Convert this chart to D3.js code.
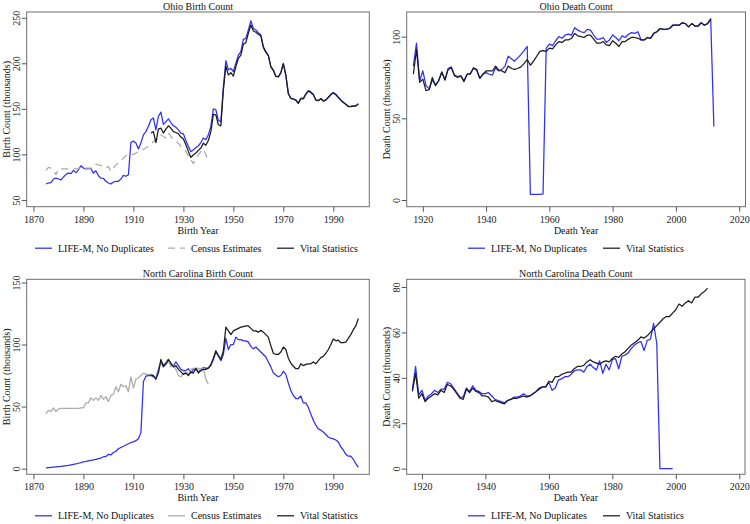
<!DOCTYPE html>
<html><head><meta charset="utf-8">
<script src="https://cdn.jsdelivr.net/npm/d3@7"></script>
<style>
html,body{margin:0;padding:0;background:#fff;}
svg{display:block;font-family:"Liberation Serif","Times New Roman",serif;}
svg text{font-family:"Liberation Serif","Times New Roman",serif;}
</style></head>
<body>
<svg id="chart" width="750" height="524"></svg>
<script>
// ---------- DATA ----------
const birthXTicks = [1870, 1890, 1910, 1930, 1950, 1970, 1990];
const deathXTicks = [1920, 1940, 1960, 1980, 2000, 2020];
const ohBirthYTicks = [50, 100, 150, 200, 250];
const ohDeathYTicks = [0, 50, 100];
const ncBirthYTicks = [0, 50, 100, 150];
const ncDeathYTicks = [0, 20, 40, 60, 80];
const seriesNames = ["LIFE-M, No Duplicates", "Census Estimates", "Vital Statistics"];

// Ohio births (thousands)
const ohBirthLifeMStart = 1875;
const ohBirthLifeM = [
 67.5,68.6,69,73,74,73,72,75,78,79.5,
 79,82.5,80,83,87.5,85,84,84.5,84.5,79.5,
 82,76.5,74,73.7,70.5,68.6,67.5,69.7,70.5,70.5,
 73,77,76,77.7,113,114.6,112.5,106,112.5,121.5,
 125,130.7,138,140,127,141.6,146.4,133,136,139,
 135,131.4,130,127,123.4,122.6,115.3,108.8,103,105,
 107.3,109.5,113,118,116,121.5,130.7,150,149,137.2,
 136,173.7,203,192.7,194.5,191,200,209,212.8,226.3,
 227.4,236.5,246.7,238.3,236.5,233.6,231,218.2,212.8,209,
 196.4,192.7,186,185.4,189.8,200,187.2,167,161.7,161,
 159.9,156.2,161.7,161.3,166.4,170,168.6,166,159.9,159.1,
 161.3,158.8,159.9,162.8,166,168,166,162.8,159.9,157.3,
 155.1,152.6,152.6,153.3,153.3,155.5];
const ohBirthCensusStart = 1875;
const ohBirthCensus = [
 82.5,85.8,85,82.5,77.7,84,84,84,84,84,
 84,84,84,85,84,84,85,85,85,86.8,
 89.4,88.6,88,86.8,85,86.8,81.4,85,88.6,90.5,
 93,96,98.5,99.6,100.7,99.6,101.5,103.3,104,105.5,
 107,109,111,114,116,117,121.5,119.7,118,123.4,
 119.7,116,114.2,112.4,108.8,107,103.3,97.8,94.2,89.8,
 95,99.6,103.3,105.8,99.6,92.3];
const ohBirthVitalStart = 1917;
const ohBirthVital = [
 123.4,125,113,127.7,128.8,123.4,127.7,131.4,128.8,125,
 124,122.6,119,116.8,110.6,103.3,96.7,99.6,101.5,104.4,
 107,112.4,110,115.3,125,144,143.4,132.5,131.4,170.8,
 197,187.2,189.8,186,196.4,205.5,209,221,222.6,232.8,
 242,235.4,234,232,230,217.5,212,208.5,
 196,192,185.5,185,189.5,199.5,186.5,166.5,161.5,160.5,
 159.5,156,161.5,161,166,169.5,168,165.5,159.5,159,
 161,158.5,159.5,162.5,165.5,167.5,165.5,162.5,159.5,157,
 155,152.5,152.5,153,153,155.5];

// Ohio deaths (thousands)
const ohDeathLifeMStart = 1917;
const ohDeathLifeM = [
 82,96,73,79,70,68,73.5,70.5,73,78,
 73.5,80.5,81.5,76,75,76,73,77,77.5,80.5,
 79.5,74.5,77,78,77,76.5,81,79,80,82,
 88,86.5,85,87,89,91.5,94,3.5,3.5,3.5,
 3.5,3.7,93,95.5,94.5,97.5,100,99,101,101.5,
 101,105.5,104,103,102.5,104.5,104,101,98.5,98.5,
 99.5,96.5,98,101,99.5,97.5,100.5,99.5,101.5,102.5,
 102,103,98,98,99.5,99,102,103,105,104.5,
 104.5,105,107,107,107,108.5,108,106,108,106.5,
 106.5,108.5,107,108,111,45];
const ohDeathVitalStart = 1917;
const ohDeathVital = [
 77,92,72,74,67,67.5,75,70,73,78.5,
 73.5,80,81,76.5,75.5,76,72.5,77,77,81,
 80,74.5,77,79,79,79,82,79.5,79,78,
 82,80.5,80,80.5,81.5,83.5,86,82.5,85,88,
 91,91.5,91,93,92.5,95,97,96.5,98,98,
 99,102,100.5,100,99.5,101,101,98.5,96,96,
 97,95,94.5,97.5,96,94,97,97,98.5,99.5,
 99.5,99,98,98,99.5,99,102,103,105,104.5,
 104.5,105,107,107,107,108.5,108,106,108,106.5,
 106.5,108.5,107,108,110.5];

// North Carolina births (thousands)
const ncBirthLifeMStart = 1875;
const ncBirthLifeM = [
 0.5,0.7,0.9,1.1,1.3,1.5,1.7,2,2.3,2.6,
 3,3.4,3.8,4.3,4.8,5.5,5.8,6.2,6.6,7,
 7.5,8,8.5,9.5,9.8,11.5,11,13,14,16,
 17,18,19,20,21,21.5,22.5,24,29,70,
 74.5,75,75,74,73,80,86,82,84,87,
 84,83,86,83,80,79,79,80.5,77,80,
 80,78,80,81.5,81,81,83,88,94,91,
 87,92,105,96,100,100,106,104,104,103,
 103,102,98.5,96.5,98,96,94,92,90,86,
 82,77,75.5,74,75,78.5,76,69,63,59,
 56.5,56.5,58.5,53,53,49.5,44,39,35,32,
 31,29.5,27.5,25.5,24.5,24,23,21.5,17.5,15,
 11.5,10,10,7.5,4,1];
const ncBirthCensusStart = 1875;
const ncBirthCensus = [
 44,47,46,49,46,48,48.5,48.5,48.5,48.5,
 48.5,48.5,48.5,48.5,49,49,53,53,57,55,
 57,55,59,56,58,54,59,60,66,62,
 68,66,67,62,74,65,72,73,75,77,
 76,76,76,75,73,78,86,84,85,88,
 82,84,80,75,74,77,78,76,80,81,
 79,81,80,81,72,68];
const ncBirthVitalStart = 1917;
const ncBirthVital = [
 75.5,75,72,77,88,82.5,85,88,85,82,
 83,80,78,76,77,75,78,77,81,77,
 79,80,80,81,84,89,95,91,88,95,
 114,111,108,111,112,113,114,114.5,115,115,
 113,111,111,110,111.5,110,108,106,99,93,
 92,92,94,98,96,89,85,82.5,80.5,80.5,
 84.5,83,84,84.5,84.5,86,84.5,87,89.5,90.5,
 93,96,100,104.5,103,103.5,101.5,101.5,102,105,
 108,112,115,121];

// North Carolina deaths (thousands)
const ncDeathLifeMStart = 1917;
const ncDeathLifeM = [
 35,45,32.5,34.5,30,32,33,34.5,33.5,35,
 35,38,37.5,35.5,33.5,31.5,31.5,35.5,34,36.5,
 34.5,34,33,33,33.5,32,30.5,30,29.5,29,
 30,30.5,31.5,31.5,32,33,32,32,33,34,
 35,36,36,38,34.5,35.5,39,39.5,40.5,40.5,
 41.5,43,43.5,43.5,42.5,45,46,44.5,43.5,47.5,
 42,46,43.5,48,48.5,44,49.5,50,51,53,
 54.5,55.5,56,52,56.5,57,64,55,0,0,
 0,0,0];
const ncDeathVitalStart = 1917;
const ncDeathVital = [
 34,42,31,33,29.5,31,32,33,32.5,34.5,
 33.5,37,36.5,35,33,31,30.5,35,33.5,35.5,
 34,33.5,32,32,31.5,29.5,30,29.5,29,28.5,
 30,30.5,31,31,31.5,32,31.5,32,33,34,
 35.5,36,36,38.5,38,40.5,40.5,41.5,42,42.5,
 42.5,44,45,45,45.5,47,48,47,46.5,46,
 47,47.5,47,48.5,49.5,49,50.5,51.5,53,54.5,
 55.5,56.5,58,57.5,58.5,60,61.5,63,64.5,66,
 67,67,68.5,70,72.5,71.5,73,74,73,75.5,
 75.5,77,78,79.5];

// ---------- STYLE ----------
const BLUE = "#2f2ff5", BLACK = "#1c1c1c", GRAY = "#ababab";
const FONT = 10;

const svg = d3.select("#chart");

function toPoints(start, vals) { return vals.map((v, i) => [start + i, v]); }

function drawPanel(cfg) {
  const g = svg.append("g");
  const x = d3.scaleLinear().domain(cfg.xDomain).range([cfg.left, cfg.right]);
  const y = d3.scaleLinear().domain(cfg.yDomain).range([cfg.bottom, cfg.top]);

  const line = d3.line().x(d => x(d[0])).y(d => y(d[1]));
  cfg.series.forEach(s => {
    g.append("path").datum(toPoints(s.start, s.values))
      .attr("d", line).attr("fill", "none")
      .attr("stroke", s.color).attr("stroke-width", 1.25)
      .attr("stroke-dasharray", s.dash || null)
      .attr("stroke-linejoin", "round");
  });

  g.append("rect").attr("x", cfg.left).attr("y", cfg.top)
    .attr("width", cfg.right - cfg.left).attr("height", cfg.bottom - cfg.top)
    .attr("fill", "none").attr("stroke", "#6e6e6e").attr("stroke-width", 1);

  const xa = g.append("g").attr("transform", `translate(0,${cfg.bottom})`)
    .call(d3.axisBottom(x).tickValues(cfg.xTicks).tickFormat(d3.format("d")).tickSize(5).tickPadding(4));
  xa.attr("font-family", null).attr("font-size", FONT);
  xa.select(".domain").remove();
  xa.selectAll("line").attr("stroke", "#555");
  xa.selectAll("text").attr("fill", "#222");

  const ya = g.append("g").attr("transform", `translate(${cfg.left},0)`)
    .call(d3.axisLeft(y).tickValues(cfg.yTicks).tickFormat(d3.format("d")).tickSize(5));
  ya.attr("font-family", null).attr("font-size", FONT);
  ya.select(".domain").remove();
  ya.selectAll("line").attr("stroke", "#555");
  ya.selectAll("text").attr("fill", "#222")
    .attr("x", null).attr("dy", null).attr("text-anchor", "middle")
    .attr("transform", "translate(-7,0) rotate(-90)");

  g.append("text").attr("x", (cfg.left + cfg.right) / 2).attr("y", cfg.top - 2.5)
    .attr("text-anchor", "middle").attr("font-size", FONT).attr("fill", "#111").text(cfg.title);
  g.append("text").attr("x", (cfg.left + cfg.right) / 2).attr("y", cfg.bottom + 27)
    .attr("text-anchor", "middle").attr("font-size", FONT).attr("fill", "#111").text(cfg.xTitle);
  const cy = (cfg.top + cfg.bottom) / 2;
  g.append("text").attr("transform", `translate(${cfg.left - 17},${cy}) rotate(-90)`)
    .attr("text-anchor", "middle").attr("font-size", FONT).attr("fill", "#111").text(cfg.yTitle);

  const ly = cfg.bottom + 41.5;
  cfg.legend.forEach(l => {
    g.append("line").attr("x1", l.x).attr("x2", l.x + 17).attr("y1", ly).attr("y2", ly)
      .attr("stroke", l.color).attr("stroke-width", 1.25).attr("stroke-dasharray", l.dash || null);
    g.append("text").attr("x", l.x + 23).attr("y", ly + 3.5).attr("font-size", FONT)
      .attr("fill", "#111").text(l.label);
  });
}

const birthLegend = (dash) => [
  {label: seriesNames[0], color: BLUE, x: 35},
  {label: seriesNames[1], color: GRAY, dash: dash, x: 168},
  {label: seriesNames[2], color: BLACK, x: 277}
];
const deathLegend = [
  {label: seriesNames[0], color: BLUE, x: 468},
  {label: seriesNames[2], color: BLACK, x: 603}
];

drawPanel({
  left: 26.7, right: 369.3, top: 12, bottom: 206.7,
  xDomain: [1867.3, 2004.4], yDomain: [42.6, 256.3],
  xTicks: birthXTicks, yTicks: ohBirthYTicks,
  title: "Ohio Birth Count", xTitle: "Birth Year", yTitle: "Birth Count (thousands)",
  series: [
    {start: ohBirthLifeMStart, values: ohBirthLifeM, color: BLUE},
    {start: ohBirthCensusStart, values: ohBirthCensus, color: GRAY, dash: "7,5"},
    {start: ohBirthVitalStart, values: ohBirthVital, color: BLACK}
  ],
  legend: birthLegend("7,5")
});

drawPanel({
  left: 406.7, right: 745.5, top: 12, bottom: 206.7,
  xDomain: [1914.9, 2022], yDomain: [-4.1, 115.1],
  xTicks: deathXTicks, yTicks: ohDeathYTicks,
  title: "Ohio Death Count", xTitle: "Death Year", yTitle: "Death Count (thousands)",
  series: [
    {start: ohDeathLifeMStart, values: ohDeathLifeM, color: BLUE},
    {start: ohDeathVitalStart, values: ohDeathVital, color: BLACK}
  ],
  legend: deathLegend
});

drawPanel({
  left: 26.7, right: 369.3, top: 279.3, bottom: 474.3,
  xDomain: [1867.3, 2004.4], yDomain: [-4.6, 152.6],
  xTicks: birthXTicks, yTicks: ncBirthYTicks,
  title: "North Carolina Birth Count", xTitle: "Birth Year", yTitle: "Birth Count (thousands)",
  series: [
    {start: ncBirthLifeMStart, values: ncBirthLifeM, color: BLUE},
    {start: ncBirthCensusStart, values: ncBirthCensus, color: GRAY},
    {start: ncBirthVitalStart, values: ncBirthVital, color: BLACK}
  ],
  legend: birthLegend(null)
});

drawPanel({
  left: 406.7, right: 745, top: 279.3, bottom: 474.3,
  xDomain: [1915.2, 2021.8], yDomain: [-2.5, 83.4],
  xTicks: deathXTicks, yTicks: ncDeathYTicks,
  title: "North Carolina Death Count", xTitle: "Death Year", yTitle: "Death Count (thousands)",
  series: [
    {start: ncDeathLifeMStart, values: ncDeathLifeM, color: BLUE},
    {start: ncDeathVitalStart, values: ncDeathVital, color: BLACK}
  ],
  legend: deathLegend
});
</script>
</body></html>
